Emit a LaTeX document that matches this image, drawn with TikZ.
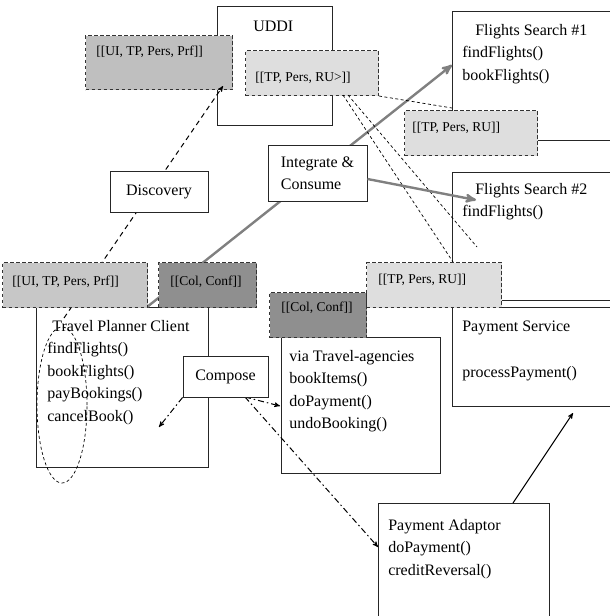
\documentclass[tikz,border=0pt]{standalone}
\usepackage{fontspec}
\setmainfont{Liberation Serif}
\usepackage{tikz}
\usetikzlibrary{arrows}

\begin{document}
\begin{tikzpicture}[x=1pt,y=-1pt,>=stealth',semithick]
	\tikzstyle{svc}=[draw=black!85,fill=white,line width=0.9pt,anchor=north west,inner sep=0]
	\tikzstyle{tag}=[draw=black!80,dash pattern=on 3.5pt off 2.5pt,line width=1pt,anchor=north west,inner sep=0]
	\tikzstyle{txt}=[anchor=north west,inner sep=0,align=left,font=\fontsize{16}{22.5}\selectfont]
	\tikzstyle{tagtxt}=[anchor=north west,inner sep=0,font=\fontsize{13.5}{16}\selectfont]
	\tikzstyle{act}=[draw=black!85,fill=white,line width=0.9pt,inner sep=0,align=left,font=\fontsize{16}{22}\selectfont]
	\tikzstyle{consume}=[->,draw=black!50,line width=2.4pt]
	\tikzstyle{compose}=[->,line width=1pt,dash pattern=on 6pt off 3pt on 1.5pt off 3pt]
	\tikzstyle{discover}=[->,line width=1pt,dash pattern=on 5pt off 4pt]
	\tikzstyle{assoc}=[line width=0.7pt,dash pattern=on 3pt off 2.5pt]

	\useasboundingbox (0,0) rectangle (610,616);
	\clip (0,0) rectangle (610,616);

	% services
	\node[svc,minimum width=115pt,minimum height=119pt] (uddi)    at (217,6)   {};
	\node[svc,minimum width=170pt,minimum height=129pt] (fs1)     at (452,11)  {};
	\node[svc,minimum width=170pt,minimum height=128pt] (fs2)     at (452,172) {};
	\node[svc,minimum width=170pt,minimum height=99pt]  (pay)     at (452,307) {};
	\node[svc,minimum width=172pt,minimum height=160pt] (client)  at (36,307)  {};
	\node[svc,minimum width=159pt,minimum height=136pt] (via)     at (281,337) {};
	\node[svc,minimum width=171pt,minimum height=140pt] (adaptor) at (378,503) {};

	\node[txt] (uddiT)    at (253,21)  {UDDI};
	\node[txt] (fs1T)     at (462,24)  {\hspace*{13pt}Flights Search \#1\\findFlights()\\bookFlights()};
	\node[txt] (fs2T)     at (462,183) {\hspace*{13pt}Flights Search \#2\\findFlights()};
	\node[txt] (payT)     at (462,321) {Payment Service\\[23pt]processPayment()};
	\node[txt] (clientT)  at (47,320)  {\hspace*{5pt}Travel Planner Client\\findFlights()\\bookFlights()\\payBookings()\\cancelBook()};
	\node[txt] (viaT)     at (289,350) {via Travel-agencies\\bookItems()\\doPayment()\\undoBooking()};
	\node[txt] (adaptorT) at (388,519) {Payment Adaptor\\doPayment()\\creditReversal()};

	% upper tags
	\node[tag,fill=black!25,minimum width=147pt,minimum height=54pt] (uiTop) at (85,35)   {};
	\node[tag,fill=black!13,minimum width=133pt,minimum height=45pt] (ruTop) at (245,50)  {};
	\node[tag,fill=black!13,minimum width=133pt,minimum height=45pt] (ruFs1) at (404,110) {};
	\node[tagtxt] (uiTopT) at (96,46)   {[[UI, TP, Pers, Prf]]};
	\node[tagtxt] (ruTopT) at (255,72)  {[[TP, Pers, RU>]]};
	\node[tagtxt] (ruFs1T) at (412,122) {[[TP, Pers, RU]]};

	\coordinate (discFoot)  at (64,318);
	\coordinate (uddiIn)    at (223,86);
	\coordinate (tagCorner) at (147,307);
	\coordinate (fs1In)     at (452,65);
	\coordinate (fs2In)     at (476,200);
	\coordinate (fs1Edge)   at (452,108);
	\coordinate (ruA)       at (343,95);
	\coordinate (ruB)       at (348,95);
	\coordinate (fs2A)      at (453,262);
	\coordinate (fs2B)      at (477,247);
	\coordinate (compStart) at (245,397);
	\coordinate (clientIn)  at (159,427);
	\coordinate (viaIn)     at (280,406);
	\coordinate (adaptorIn) at (378,547);
	\coordinate (adaptorOut) at (513,503);
	\coordinate (payIn)     at (573,413);

	\draw[discover] (discFoot) -- (uddiIn);
	\draw[consume] (tagCorner) -- (fs1In);
	\path[assoc] (ruTop.south east) edge (fs1Edge)
	             (ruA) edge (fs2A)
	             (ruB) edge (fs2B);
	\draw[compose] (compStart) -- (viaIn);
	\draw[compose] (compStart) -- (adaptorIn);
	\draw[->,line width=1pt] (adaptorOut) -- (payIn);

	% lower tags
	\node[tag,fill=black!22,minimum width=145pt,minimum height=45pt] (uiLow)  at (2,262)   {};
	\node[tag,fill=black!44,minimum width=98pt,minimum height=45pt]  (colLow) at (158,262) {};
	\node[tag,fill=black!44,minimum width=97pt,minimum height=45pt]  (colVia) at (269,292) {};
	\node[tag,fill=black!13,minimum width=135pt,minimum height=45pt] (ruFs2)  at (366,262) {};
	\node[tagtxt] (uiLowT)  at (12,276)  {[[UI, TP, Pers, Prf]]};
	\node[tagtxt] (colLowT) at (170,276) {[[Col, Conf]]};
	\node[tagtxt] (colViaT) at (281,302) {[[Col, Conf]]};
	\node[tagtxt] (ruFs2T)  at (378,274) {[[TP, Pers, RU]]};

	% activities
	\node[act,minimum width=98pt,minimum height=41pt] (disc)    at (159,191.5) {Discovery};
	\node[act,minimum width=99pt,minimum height=56pt] (integ)   at (317.5,173) {Integrate \&\\Consume};
	\node[act,minimum width=85pt,minimum height=41pt] (compose) at (225.5,376.5) {Compose};

	\draw[consume] ([yshift=-6pt]integ.east) -- (fs2In);
	\draw[compose] (compose.south west) -- (clientIn);
	\draw[assoc] (62,405) ellipse [x radius=25pt, y radius=78pt];
\end{tikzpicture}
\end{document}
